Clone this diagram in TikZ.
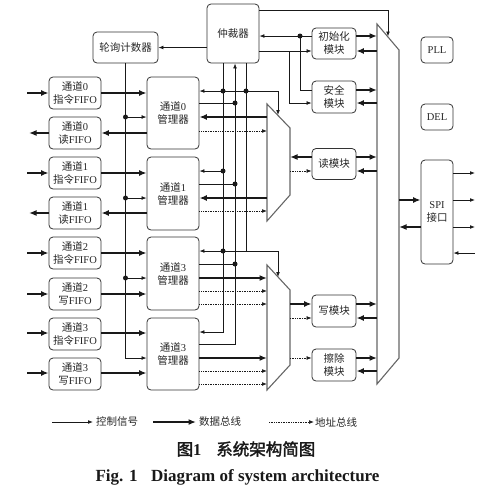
\documentclass[tikz,border=0pt]{standalone}
\usepackage{fontspec}
\setmainfont{Liberation Serif}
\newfontfamily\cjk{Noto Sans CJK SC}
\newfontfamily\cjkb[FakeBold=2]{Noto Sans CJK SC}
\usetikzlibrary{arrows.meta,calc}
\newcommand\zh[1]{{\cjk #1}}
\begin{document}
\begin{tikzpicture}[x=1pt,y=-1pt,
  box/.style={draw=black!80,line width=0.8,rounded corners=4,align=center,inner sep=0,
    font=\fontsize{10.5}{13}\selectfont,text=black!85},
  fifo/.style={box,minimum width=52,minimum height=32},
  mgr/.style={box,minimum width=52,minimum height=72},
  mdl/.style={box,minimum width=44,minimum height=31},
  sm/.style={box,minimum width=32,minimum height=26},
  bus/.style={draw=black!60,line width=1.1},
  ctl/.style={line width=0.75,black!90,>={Latex[length=5pt,width=3.8pt]}},
  dat/.style={line width=1.8,black!90,>={Latex[length=7.5pt,width=6pt]}},
  adr/.style={line width=0.7,black!90,dash pattern=on 0.8pt off 0.9pt,>={Latex[length=5pt,width=3.8pt]}},
  dot/.style={fill=black!90},
  lg/.style={anchor=west,inner sep=0,font=\fontsize{10.5}{12}\selectfont\cjk,text=black!85}]
\useasboundingbox (0,0) rectangle (500,488);

% ---- nodes
\node[box,minimum width=65,minimum height=31] (lx) at (125.5,47.5) {\zh{轮询计数器}};
\node[box,minimum width=52,minimum height=59] (arb) at (233,33.5) {\zh{仲裁器}};

\node[fifo] (f0c) at (75,93)  {\zh{通道}0\\\zh{指令}FIFO};
\node[fifo] (f0r) at (75,133) {\zh{通道}0\\\zh{读}FIFO};
\node[fifo] (f1c) at (75,173) {\zh{通道}1\\\zh{指令}FIFO};
\node[fifo] (f1r) at (75,213) {\zh{通道}1\\\zh{读}FIFO};
\node[fifo] (f2c) at (75,253) {\zh{通道}2\\\zh{指令}FIFO};
\node[fifo] (f2w) at (75,294) {\zh{通道}2\\\zh{写}FIFO};
\node[fifo] (f3c) at (75,334) {\zh{通道}3\\\zh{指令}FIFO};
\node[fifo] (f3w) at (75,374) {\zh{通道}3\\\zh{写}FIFO};

\node[mgr] (m0) at (173,113)   {\zh{通道}0\\\zh{管理器}};
\node[mgr,minimum height=73] (m1) at (173,193.5) {\zh{通道}1\\\zh{管理器}};
\node[mgr,minimum height=73] (m2) at (173,273.5) {\zh{通道}3\\\zh{管理器}};
\node[mgr] (m3) at (173,354)   {\zh{通道}3\\\zh{管理器}};

\node[mdl] (init)  at (334,43.5) {\zh{初始化}\\\zh{模块}};
\node[mdl,minimum height=32] (safe) at (334,97) {\zh{安全}\\\zh{模块}};
\node[mdl] (read)  at (334,164)  {\zh{读模块}};
\node[mdl,minimum height=32] (write) at (334,311) {\zh{写模块}};
\node[mdl,minimum height=32] (erase) at (334,365) {\zh{擦除}\\\zh{模块}};

\node[sm] (pll) at (437,50)  {PLL};
\node[sm] (del) at (437,117) {DEL};
\node[sm,minimum height=104] (spi) at (437,212) {SPI\\\zh{接口}};

% ---- muxes and bus
\draw[bus] (267,104) coordinate (mux1) -- (290,128) -- (290,195) -- (267,221) -- cycle;
\draw[bus] (267,265) coordinate (mux2) -- (290,290) -- (290,365) -- (267,390) -- cycle;
\draw[bus] (377,24) coordinate (bigbus) -- (399,50) -- (399,358) -- (377,384) -- cycle;

% ---- FIFO inputs / outputs
\foreach \n/\y in {f0c/93,f1c/173,f2c/253,f2w/294,f3c/333,f3w/373}
  \draw[dat,->] (27,\y) -- (\n.west |- 0,\y);
\draw[dat,->] (f0r.west |- 0,133) -- (29,133);
\draw[dat,->] (f1r.west |- 0,213) -- (29,213);

% FIFO <-> managers
\draw[dat,->] (f0c.east |- 0,93)  -- (m0.west |- 0,93);
\draw[dat,->] (m0.west |- 0,133)  -- (f0r.east |- 0,133);
\draw[dat,->] (f1c.east |- 0,173) -- (m1.west |- 0,173);
\draw[dat,->] (m1.west |- 0,213)  -- (f1r.east |- 0,213);
\draw[dat,->] (f2c.east |- 0,253) -- (m2.west |- 0,253);
\draw[dat,->] (f2w.east |- 0,294) -- (m2.west |- 0,294);
\draw[dat,->] (f3c.east |- 0,333) -- (m3.west |- 0,333);
\draw[dat,->] (f3w.east |- 0,373) -- (m3.west |- 0,373);

% polling counter
\draw[ctl,->] (arb.west |- lx.east) -- (lx.east);
\draw[ctl,->] (lx.south) |- (m3.west |- 0,358);
\foreach \m/\y in {m0/117,m1/198,m2/278}{
  \draw[ctl,->] (lx.south |- 0,\y) -- (\m.west |- 0,\y);
  \fill[dot] (lx.south |- 0,\y) circle (2.5);}

% arbiter buses
\draw[ctl,->] (arb.south -| 223,0) |- (m3.east |- 0,332);
\draw[ctl,->] (m3.east |- 0,344) -| (arb.south -| 235,0);
\draw[ctl,->] (arb.south -| 246,0) |- (278,251) -- (278,277);
\draw[ctl,->] (246,91) -- (278,91) -- (278,115);
\draw[ctl,->] (246,91) -- (m0.east |- 0,91);
\draw[ctl,->] (223,171) -- (m1.east |- 0,171);
\draw[ctl,->] (246,251) -- (m2.east |- 0,251);
\foreach \y in {91,171,251} \fill[dot] (223,\y) circle (2.5);
\fill[dot] (246,91) circle (2.5);
\draw[ctl] (m0.east |- 0,103) -- (235,103);
\draw[ctl] (m1.east |- 0,184) -- (235,184);
\draw[ctl] (m2.east |- 0,264) -- (235,264);
\foreach \y in {103,184,264} \fill[dot] (235,\y) circle (2.5);

% managers <-> muxes
\draw[dat,<-] (m0.east |- 0,117) -- (267,117);
\draw[adr,->] (m0.east |- 0,131) -- (267,131);
\draw[dat,<-] (m1.east |- 0,198) -- (267,198);
\draw[adr,->] (m1.east |- 0,211) -- (267,211);
\draw[dat,->] (m2.east |- 0,278) -- (267,278);
\draw[adr,->] (m2.east |- 0,291) -- (267,291);
\draw[adr,->] (m2.east |- 0,304) -- (267,304);
\draw[dat,->] (m3.east |- 0,358) -- (267,358);
\draw[adr,->] (m3.east |- 0,371) -- (267,371);
\draw[adr,->] (m3.east |- 0,384) -- (267,384);

% muxes <-> modules
\draw[dat,->] (read.west |- 0,157) -- (290,157);
\draw[adr,->] (290,171) -- (read.west |- 0,171);
\draw[dat,->] (290,304) -- (write.west |- 0,304);
\draw[adr,->] (290,318) -- (write.west |- 0,318);
\draw[adr,->] (290,358) -- (erase.west |- 0,358);

% arbiter <-> init / safe
\draw[ctl,->] (init.west |- 0,36) -- (arb.east |- 0,36);
\fill[dot] (300,36) circle (2.5);
\draw[ctl] (300,36) |- (safe.west |- 0,90);
\draw[ctl,->] (arb.east |- 0,51) -- (init.west |- 0,51);
\draw[ctl,->] (289,51) |- (safe.west |- 0,103);
\draw[ctl,->] (arb.east |- 0,10) -| (388,36.5);

% modules <-> big bus
\foreach \n/\a/\b in {init/36/51,safe/90/103,read/157/171,write/304/318,erase/358/371}{
  \draw[dat,->] (\n.east |- 0,\a) -- (377,\a);
  \draw[dat,<-] (\n.east |- 0,\b) -- (377,\b);}

% SPI
\draw[dat,->] (399,200) -- (spi.west |- 0,200);
\draw[dat,<-] (399,227) -- (spi.west |- 0,227);
\foreach \y in {173,200,227} \draw[ctl,->] (spi.east |- 0,\y) -- (475,\y);
\draw[ctl,<-] (spi.east |- 0,253) -- (475,253);

% legend
\draw[ctl,->] (52,422) -- (93,422);
\node[lg] (lg1) at (96,422) {控制信号};
\draw[dat,->] (153,422) -- (196,422);
\node[lg] (lg2) at (199,422) {数据总线};
\draw[adr,->] (269,422) -- (314,422);
\node[lg] (lg3) at (315,422) {地址总线};

% captions
\node[inner sep=0,text=black!90,font=\fontsize{16.5}{18}\selectfont] (cap1) at (246,449)
  {{\cjkb 图}\textbf{1}\hspace{0.9em}{\cjkb 系统架构简图}};
\node[inner sep=0,text=black!90,font=\fontsize{17}{18}\selectfont\bfseries] (cap2) at (237.5,477)
  {Fig. 1\hspace{0.8em}Diagram of system architecture};
\end{tikzpicture}
\end{document}
